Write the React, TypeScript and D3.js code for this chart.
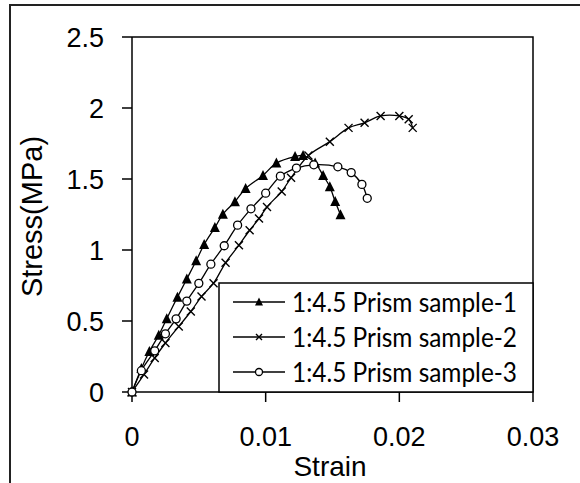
import React from "react";
import * as d3 from "d3";

const seriesNames = ["1:4.5 Prism sample-1", "1:4.5 Prism sample-2", "1:4.5 Prism sample-3"];
const markerKinds = ["triangle", "cross", "circle"];

const sample1: [number, number][] = [
  [0, 0], [0.0007, 0.166], [0.0013, 0.285], [0.002, 0.4], [0.0026, 0.516], [0.0034, 0.668],
  [0.0041, 0.796], [0.0048, 0.924], [0.0054, 1.039], [0.0062, 1.158], [0.0068, 1.252],
  [0.0077, 1.34], [0.0085, 1.433], [0.0098, 1.525], [0.0108, 1.612], [0.0122, 1.658],
  [0.0128, 1.665], [0.0137, 1.612], [0.0143, 1.524], [0.0148, 1.446], [0.0152, 1.341],
  [0.0156, 1.248],
];
const sample2: [number, number][] = [
  [0, 0], [0.0009, 0.124], [0.0017, 0.24], [0.0025, 0.345], [0.0035, 0.462], [0.0044, 0.567],
  [0.0052, 0.672], [0.0061, 0.766], [0.007, 0.91], [0.008, 1.034], [0.0088, 1.139],
  [0.0095, 1.221], [0.0101, 1.303], [0.0112, 1.412], [0.0119, 1.508], [0.0132, 1.665],
  [0.0148, 1.763], [0.0162, 1.86], [0.0174, 1.896], [0.0186, 1.944], [0.02, 1.944],
  [0.0207, 1.92], [0.021, 1.86],
];
const sample3: [number, number][] = [
  [0, 0], [0.0007, 0.15], [0.0017, 0.29], [0.0025, 0.41], [0.0033, 0.515], [0.0041, 0.64],
  [0.005, 0.765], [0.0059, 0.9], [0.0069, 1.03], [0.0079, 1.175], [0.0089, 1.29],
  [0.01, 1.4], [0.0111, 1.52], [0.0123, 1.577], [0.0136, 1.6], [0.0154, 1.586],
  [0.0164, 1.545], [0.0172, 1.462], [0.0176, 1.364],
];
const allSeries = [sample1, sample2, sample3];

const xTicks = [0, 0.01, 0.02, 0.03];
const xTickLabels = ["0", "0.01", "0.02", "0.03"];
const yTicks = [0, 0.5, 1, 1.5, 2, 2.5];
const yTickLabels = ["0", "0.5", "1", "1.5", "2", "2.5"];
const xTitle = "Strain";
const yTitle = "Stress(MPa)";

const W = 580, H = 483;
const L = 132, R = 533, T = 37, B = 392;

function Marker({ kind, x, y, s }: { kind: string; x: number; y: number; s: number }) {
  if (kind === "triangle") {
    const h = s * 0.9;
    return (
      <path
        d={`M${x},${y - h / 2 - 1} L${x + s / 2},${y + h / 2} L${x - s / 2},${y + h / 2} Z`}
        fill="#000"
      />
    );
  }
  if (kind === "cross") {
    const r = s / 2;
    return (
      <path
        d={`M${x - r},${y - r} L${x + r},${y + r} M${x - r},${y + r} L${x + r},${y - r}`}
        stroke="#000"
        strokeWidth={1.4}
        fill="none"
      />
    );
  }
  return <circle cx={x} cy={y} r={s / 2} fill="#fff" stroke="#000" strokeWidth={1.3} />;
}

export default function App() {
  const x = d3.scaleLinear().domain([0, 0.03]).range([L, R]);
  const y = d3.scaleLinear().domain([0, 2.5]).range([B, T]);
  const line = d3
    .line<[number, number]>()
    .x((d) => x(d[0]))
    .y((d) => y(d[1]))
    .curve(d3.curveCatmullRom.alpha(0.5));

  const markerSizes = [10, 8, 8];
  const legendSizes = [8, 6, 7];
  const legendRows = [302, 337, 372];
  const font = "'Liberation Sans', Arial, sans-serif";

  return (
    <svg width={W} height={H} style={{ position: "absolute", left: 0, top: 0, background: "#fff" }}>
      <rect x={0} y={0} width={W} height={H} fill="#fff" />
      <path d={`M10,${H} L10,5 L${W},5`} fill="none" stroke="#222" strokeWidth={2} />

      <path d={`M${L},${T} L${R},${T} L${R},${B}`} fill="none" stroke="#000" strokeWidth={1.5} />
      <line x1={L} y1={T} x2={L} y2={B} stroke="#000" strokeWidth={1.5} />
      <line x1={L} y1={B} x2={R} y2={B} stroke="#000" strokeWidth={1.5} />

      {yTicks.map((t, i) => (
        <g key={"y" + i}>
          <line x1={L - 10} x2={L} y1={y(t)} y2={y(t)} stroke="#000" strokeWidth={1.5} />
          <text x={104} y={y(t)} dy="0.36em" textAnchor="end" fontFamily={font} fontSize={27} fill="#000">
            {yTickLabels[i]}
          </text>
        </g>
      ))}
      {xTicks.map((t, i) => (
        <g key={"x" + i}>
          <line x1={x(t)} x2={x(t)} y1={B} y2={B + 10} stroke="#000" strokeWidth={1.5} />
          <text x={x(t)} y={446} textAnchor="middle" fontFamily={font} fontSize={27} fill="#000">
            {xTickLabels[i]}
          </text>
        </g>
      ))}
      <text x={330} y={476} textAnchor="middle" fontFamily={font} fontSize={28} fill="#000">
        {xTitle}
      </text>
      <text
        transform={`translate(42,${(T + B) / 2 + 2}) rotate(-90)`}
        textAnchor="middle"
        fontFamily={font}
        fontSize={29}
        fill="#000"
      >
        {yTitle}
      </text>

      {allSeries.map((s, i) => (
        <path key={"l" + i} d={line(s) || ""} fill="none" stroke="#000" strokeWidth={1.3} />
      ))}
      {allSeries.map((s, i) =>
        s.map((d, j) => (
          <Marker key={"m" + i + "-" + j} kind={markerKinds[i]} x={x(d[0])} y={y(d[1])} s={markerSizes[i]} />
        ))
      )}

      <rect x={219} y={283} width={R - 219} height={B - 283} fill="#fff" stroke="#000" strokeWidth={1.5} />
      {seriesNames.map((n, i) => (
        <g key={"lg" + i}>
          <line x1={233} x2={285} y1={legendRows[i]} y2={legendRows[i]} stroke="#000" strokeWidth={1.3} />
          <Marker kind={markerKinds[i]} x={259} y={legendRows[i]} s={legendSizes[i]} />
          <text
            x={292}
            y={legendRows[i]}
            dy="0.36em"
            fontFamily="Lato, 'Open Sans', sans-serif"
            fontSize={27}
            textLength={225}
            lengthAdjust="spacingAndGlyphs"
            fill="#000"
          >
            {n}
          </text>
        </g>
      ))}
    </svg>
  );
}
